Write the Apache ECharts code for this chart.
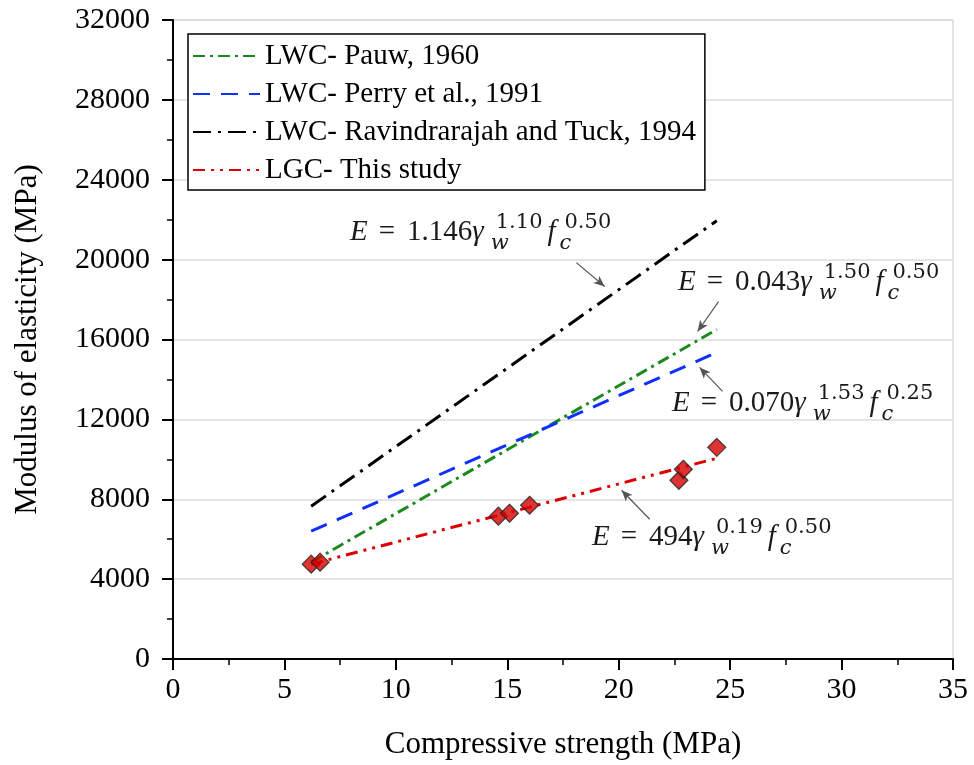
<!DOCTYPE html>
<html><head><meta charset="utf-8">
<script src="https://cdn.jsdelivr.net/npm/echarts@6/dist/echarts.min.js"></script>
<style>html,body{margin:0;padding:0;background:#fff}#c{width:974px;height:765px}</style>
</head><body><div id="c"></div>
<script>
// ---------- data ----------
const seriesNames = ['LWC- Pauw, 1960', 'LWC- Perry et al., 1991', 'LWC- Ravindrarajah and Tuck, 1994', 'LGC- This study'];
const lineStrength = [6.2, 24.4];
const pauwE = [4850, 16500];
const perryE = [6400, 15350];
const ravindraE = [7650, 21950];
const thisStudyE = [4750, 10050];
const testStrength = [6.2, 6.6, 14.6, 15.1, 16.0, 22.7, 22.9, 24.4];
const testModulus = [4750, 4850, 7150, 7300, 7700, 8950, 9500, 10600];
const xMin = 0, xMax = 35, xStep = 5;
const yMin = 0, yMax = 32000, yStep = 4000;
const xTitle = 'Compressive strength (MPa)';
const yTitle = 'Modulus of elasticity (MPa)';
// arrows: [fromX, fromY, toX, toY] in data units
const arrows = [
  [18.1, 19850, 19.37, 18650],
  [24.48, 17900, 23.54, 16400],
  [24.66, 13400, 23.63, 14600],
  [21.39, 7000, 20.13, 8450]
];
// equations: coefficient, gamma exponent, fc exponent
const eqCoef = ['1.146', '0.043', '0.070', '494'];
const eqGammaExp = ['1.10', '1.50', '1.53', '0.19'];
const eqFcExp = ['0.50', '0.50', '0.25', '0.50'];

// ---------- styling / layout ----------
const FONT = "'Liberation Serif', 'Times New Roman', serif";
const SFONT = "'DejaVu Serif', serif";
const MAIN = 29, SCRIPT = 21, SUP = 11, SUB = 10;
const eqPos = [[350, 242], [678, 292], [672, 413], [592, 547]];

const ctx = document.createElement('canvas').getContext('2d');
function measure(text, size, italic, fam) { ctx.font = (italic ? 'italic ' : '') + size + 'px ' + (fam || FONT); return ctx.measureText(text).width; }
function txt(x, base, text, size, italic, fam) {
  const mid = fam ? 0.38 : 0.3375;
  return { type: 'text', x: x, y: base - mid * size, silent: true, z: 100,
    style: { text: text, fontFamily: fam || FONT, fontSize: size, fontStyle: italic ? 'italic' : 'normal',
      fill: '#1a1a1a', align: 'left', verticalAlign: 'middle' } };
}
function buildEq(i) {
  const [x0, base] = eqPos[i];
  const els = []; let x = x0;
  els.push(txt(x, base, 'E', MAIN, true)); x += measure('E', MAIN, true) + 11;
  els.push(txt(x, base, '=', MAIN, false)); x += measure('=', MAIN, false) + 12;
  els.push(txt(x, base, eqCoef[i], MAIN, false)); x += measure(eqCoef[i], MAIN, false);
  els.push(txt(x, base, '\u03b3', MAIN, true)); x += measure('\u03b3', MAIN, true);
  els.push(txt(x + 7, base + SUB, 'w', SCRIPT, true, SFONT));
  els.push(txt(x + 12, base - SUP, eqGammaExp[i], SCRIPT, false, SFONT));
  x += Math.max(7 + measure('w', SCRIPT, true, SFONT), 12 + measure(eqGammaExp[i], SCRIPT, false, SFONT)) + 5;
  els.push(txt(x, base, 'f', MAIN, true));
  els.push(txt(x + 12, base + SUB, 'c', SCRIPT, true, SFONT));
  els.push(txt(x + 17, base - SUP, eqFcExp[i], SCRIPT, false, SFONT));
  return els;
}

const pair = (xs, ys) => xs.map((x, k) => [x, ys[k]]);
const axisCommon = {
  axisLine: { show: true, lineStyle: { color: '#000', width: 2 } },
  axisTick: { show: true, length: 11, lineStyle: { color: '#000', width: 2 } },
  minorTick: { show: true, splitNumber: 2, length: 6, lineStyle: { color: '#000', width: 1.5 } },
  nameLocation: 'middle',
  nameTextStyle: { fontFamily: FONT, fontSize: 31, color: '#000' }
};

const chart = echarts.init(document.getElementById('c'), null, { renderer: 'canvas' });
const lineColors = ['#1c8a1c', '#1030ff', '#000000', '#dd0000'];
const dashes = [[12, 5, 3, 5], [17, 11], [18, 7, 3, 7], [12, 6, 3, 6, 3, 6]];
const lineData = [pauwE, perryE, ravindraE, thisStudyE];

chart.setOption({
  animation: false,
  backgroundColor: '#fff',
  grid: { left: 173, right: 21, top: 20, bottom: 105, show: true, borderColor: '#c8c8c8', borderWidth: 1 },
  xAxis: Object.assign({ type: 'value', min: xMin, max: xMax, interval: xStep, name: xTitle, nameGap: 70,
    axisLabel: { fontFamily: FONT, fontSize: 30, color: '#000', margin: 16 },
    splitLine: { show: false } }, axisCommon),
  yAxis: Object.assign({ type: 'value', min: yMin, max: yMax, interval: yStep, name: yTitle, nameGap: 130,
    axisLabel: { fontFamily: FONT, fontSize: 30, color: '#000', margin: 23, formatter: v => String(v) },
    splitLine: { show: true, lineStyle: { color: '#dcdcdc', width: 1.5 } } }, axisCommon),
  legend: {
    left: 188, top: 34, orient: 'vertical', itemWidth: 67, itemHeight: 14, itemGap: 8,
    padding: [7, 9, 5, 4], borderColor: '#000', borderWidth: 1.5, backgroundColor: '#fff',
    textStyle: { fontFamily: FONT, fontSize: 29, color: '#000', lineHeight: 30 },
    itemStyle: { opacity: 0 },
    data: seriesNames, selectedMode: false
  },
  series: seriesNames.map((n, k) => ({
    name: n, type: 'line', data: pair(lineStrength, lineData[k]), symbol: 'none', z: 3,
    lineStyle: { color: lineColors[k], width: 3, type: dashes[k] }, itemStyle: { color: lineColors[k] }
  })).concat([{
    name: 'LGC data', type: 'scatter', data: pair(testStrength, testModulus), symbol: 'diamond', symbolSize: 18, z: 5,
    itemStyle: { color: '#d40000', borderColor: '#222', borderWidth: 1.2 },
    markLine: {
      silent: true, symbol: ['none', 'arrow'], symbolSize: [7, 11], animation: false,
      lineStyle: { color: '#555', width: 1.2, type: 'solid' }, label: { show: false },
      data: arrows.map(a => [{ coord: [a[0], a[1]] }, { coord: [a[2], a[3]] }])
    }
  }]),
  graphic: { elements: [0, 1, 2, 3].flatMap(buildEq) }
});
</script></body></html>
